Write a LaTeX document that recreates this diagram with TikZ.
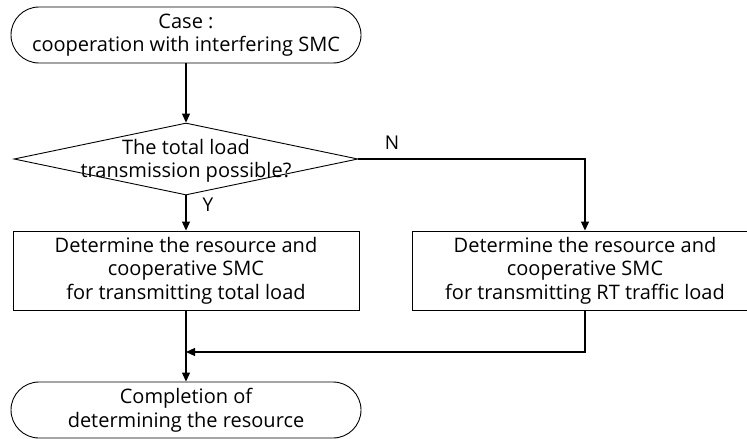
\documentclass[tikz,border=0pt]{standalone}
\usepackage{fontspec}
\setmainfont{Open Sans}
\usetikzlibrary{shapes.geometric,arrows.meta}
\begin{document}
\begin{tikzpicture}[x=1pt,y=1pt,
  every node/.style={font=\fontsize{20}{23.5}\selectfont},
  term/.style={draw, line width=0.9pt, rounded corners=28pt, minimum width=350pt, minimum height=56pt, align=center, inner sep=0pt},
  procbox/.style={draw, line width=0.9pt, minimum width=346pt, minimum height=79pt, align=center, inner sep=0pt},
  decbox/.style={draw, diamond, line width=0.9pt, minimum width=344pt, minimum height=72pt, inner sep=0pt},
  conn/.style={line width=1.1pt, -{Triangle[length=9pt,width=8pt]}},
  lbl/.style={font=\fontsize{19}{22}\selectfont, inner sep=0pt}]
\useasboundingbox (0,0) rectangle (747,-439);
\clip (0,0) rectangle (747,-439);
\node[term] (start) at (186,-35) {Case :\\cooperation with interfering SMC};
\node[decbox] (dec) at (186,-159) {};
\node[align=center, inner sep=0pt] (dectext) at (186,-161) {The total load\\transmission possible?};
\node[procbox] (left) at (186,-270.5) {Determine the resource and\\cooperative SMC\\for transmitting total load};
\node[procbox] (right) at (585,-270.5) {Determine the resource and\\cooperative SMC\\for transmitting RT traffic load};
\node[term] (end) at (186,-410) {Completion of\\determining the resource};
\coordinate (ncorner) at (585,-159);
\coordinate (rcorner) at (585,-352);
\coordinate (join) at (186,-352);
\draw[conn] (start.south) -- (dec.north);
\draw[conn] (dec.south) -- (left.north);
\node[lbl] (ylab) at (208,-205) {Y};
\draw[conn] (dec.east) -- (ncorner) -- (right.north);
\node[lbl] (nlab) at (392,-143) {N};
\draw[line width=1.1pt] (left.south) -- (join);
\draw[conn] (join) -- (end.north);
\draw[conn] (right.south) -- (rcorner) -- (join);
\end{tikzpicture}
\end{document}
